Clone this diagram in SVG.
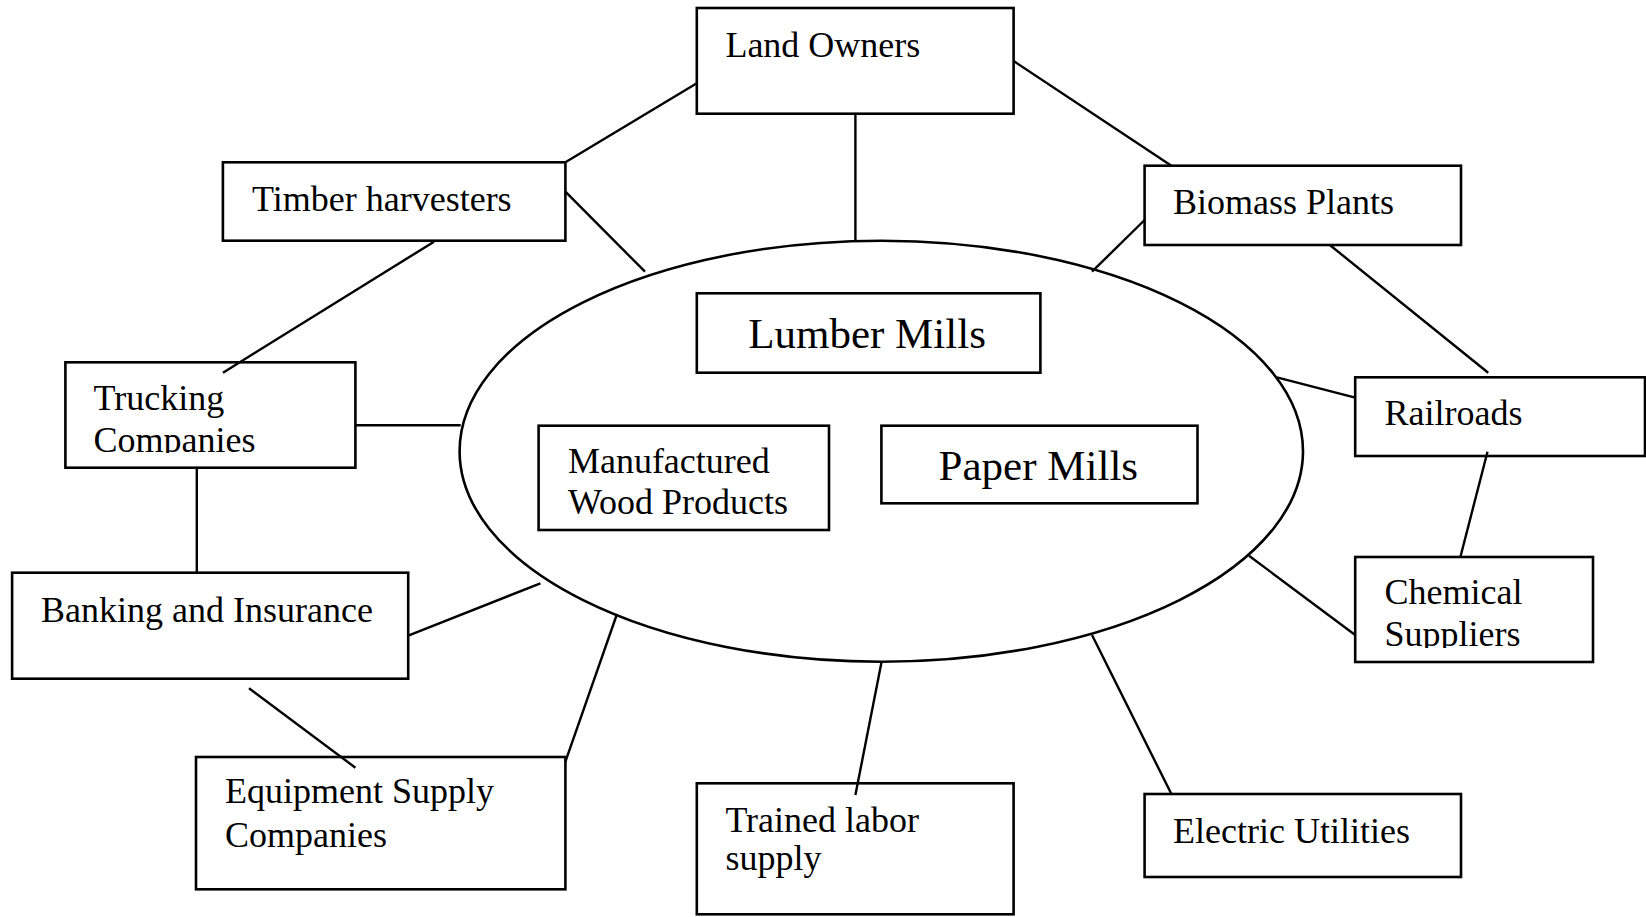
<svg xmlns="http://www.w3.org/2000/svg" width="1646" height="917" viewBox="0 0 1646 917">
<style>
.box{fill:#fff;stroke:#000;stroke-width:2.6}
.ell{fill:none;stroke:#000;stroke-width:2.6}
.t{font-family:"Liberation Serif","Times New Roman",serif;font-size:36px;fill:#000}
.big{font-size:43px}
#connectors line{stroke:#000;stroke-width:2.4}
</style>
<defs>
<clipPath id="clipTruck"><rect x="66" y="363" width="289" height="90"/></clipPath>
<clipPath id="clipChem"><rect x="1356" y="558" width="236" height="90"/></clipPath>
</defs>
<rect width="1646" height="917" fill="#fff"/>
<g id="center">
<ellipse class="ell" cx="881.3" cy="451.2" rx="421.7" ry="210.5"/>
</g>
<g id="land-owners">
<rect class="box" x="696.8" y="8" width="316.8" height="105.7"/>
<text class="t" x="725.4" y="56.7">Land Owners</text>
</g>
<g id="timber-harvesters">
<rect class="box" x="222.9" y="162.3" width="342.5" height="78.4"/>
<text class="t" x="252" y="210.7">Timber harvesters</text>
</g>
<g id="biomass-plants">
<rect class="box" x="1144.6" y="165.7" width="316.4" height="79.3"/>
<text class="t" x="1173" y="214.3">Biomass Plants</text>
</g>
<g id="lumber-mills">
<rect class="box" x="696.8" y="293.3" width="343.6" height="79.4"/>
<text class="t big" x="748.2" y="347.7">Lumber Mills</text>
</g>
<g id="trucking-companies">
<rect class="box" x="65.4" y="362.3" width="290" height="105.4"/>
<g clip-path="url(#clipTruck)">
<text class="t" x="93.6" y="410">Trucking</text>
<text class="t" x="93.6" y="451.7">Companies</text>
</g>
</g>
<g id="railroads">
<rect class="box" x="1355.2" y="377.3" width="289.8" height="78.7"/>
<text class="t" x="1384.5" y="425">Railroads</text>
</g>
<g id="manufactured-wood-products">
<rect class="box" x="538.6" y="425.7" width="290.4" height="104.3"/>
<text class="t" x="567.9" y="473">Manufactured</text>
<text class="t" x="567.9" y="514">Wood Products</text>
</g>
<g id="paper-mills">
<rect class="box" x="881.4" y="425.7" width="316.1" height="77.6"/>
<text class="t big" x="938.6" y="480">Paper Mills</text>
</g>
<g id="chemical-suppliers">
<rect class="box" x="1355.2" y="557" width="237.8" height="105"/>
<g clip-path="url(#clipChem)">
<text class="t" x="1384.5" y="604.3">Chemical</text>
<text class="t" x="1384.5" y="645.7">Suppliers</text>
</g>
</g>
<g id="banking-insurance">
<rect class="box" x="12.1" y="572.7" width="396.1" height="106"/>
<text class="t" x="41" y="621.7">Banking and Insurance</text>
</g>
<g id="equipment-supply">
<rect class="box" x="196" y="757" width="369.4" height="132.3"/>
<text class="t" x="225" y="803.3">Equipment Supply</text>
<text class="t" x="225" y="847.3">Companies</text>
</g>
<g id="trained-labor">
<rect class="box" x="696.8" y="783.3" width="316.8" height="131"/>
<text class="t" x="725.4" y="831.7">Trained labor</text>
<text class="t" x="725.4" y="870">supply</text>
</g>
<g id="electric-utilities">
<rect class="box" x="1144.6" y="794" width="316.4" height="83"/>
<text class="t" x="1173" y="842.7">Electric Utilities</text>
</g>
<g id="connectors">
<line x1="696.8" y1="83.3" x2="565.4" y2="162.3"/>
<line x1="565.4" y1="191.7" x2="645" y2="271.7"/>
<line x1="855.4" y1="113.7" x2="855.4" y2="240.5"/>
<line x1="1013.6" y1="61" x2="1171.4" y2="165.7"/>
<line x1="1144.6" y1="220" x2="1092" y2="271.7"/>
<line x1="1329.8" y1="245" x2="1488.2" y2="372.7"/>
<line x1="1355.2" y1="397.7" x2="1276.9" y2="377.3"/>
<line x1="1487.5" y1="451.7" x2="1460.4" y2="557"/>
<line x1="1249" y1="555.7" x2="1355.2" y2="635"/>
<line x1="1092" y1="635" x2="1171.4" y2="794"/>
<line x1="881.4" y1="662.7" x2="855.4" y2="795"/>
<line x1="617" y1="614" x2="565.4" y2="761.7"/>
<line x1="408.2" y1="635.7" x2="540.4" y2="583.3"/>
<line x1="249" y1="688.3" x2="355.4" y2="767.7"/>
<line x1="196.8" y1="467.7" x2="196.8" y2="572.7"/>
<line x1="355.4" y1="425.3" x2="460.7" y2="425.3"/>
<line x1="434" y1="241.7" x2="223" y2="372.7"/>
</g>
</svg>
